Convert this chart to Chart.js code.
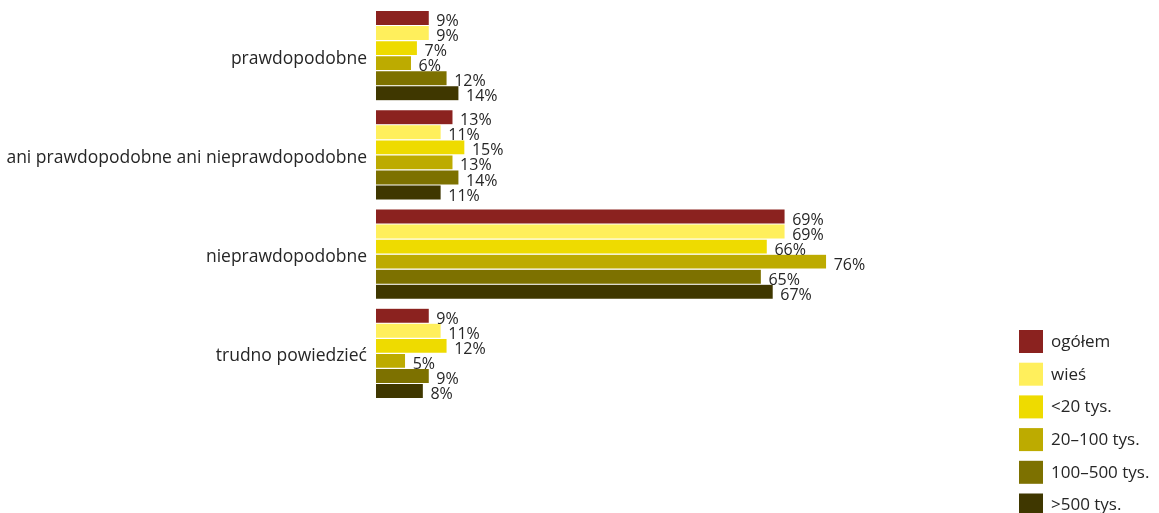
<!DOCTYPE html>
<html>
<head>
<meta charset="utf-8">
<script src="https://cdn.jsdelivr.net/npm/chart.js@4/dist/chart.umd.min.js"></script>
<style>
html,body{margin:0;padding:0;background:#fff;}
#wrap{position:relative;width:1159px;height:513px;}
</style>
</head>
<body>
<div id="wrap"><canvas id="c" width="1159" height="513"></canvas></div>
<script>
const categories = ["prawdopodobne", "ani prawdopodobne ani nieprawdopodobne", "nieprawdopodobne", "trudno powiedzieć"];
const seriesNames = ["ogółem", "wieś", "<20 tys.", "20–100 tys.", "100–500 tys.", ">500 tys."];
const seriesColors = ["#8B221F", "#FFEF5C", "#EEDB00", "#BDAB00", "#7D7100", "#3F3700"];
const ogolem = [9, 13, 69, 9];
const wies = [9, 11, 69, 11];
const do20 = [7, 15, 66, 12];
const od20do100 = [6, 13, 76, 5];
const od100do500 = [12, 14, 65, 9];
const pow500 = [14, 11, 67, 8];
const seriesValues = [ogolem, wies, do20, od20do100, od100do500, pow500];

const FONT = "'Open Sans', 'DejaVu Sans', sans-serif";
const TEXT = "#262626";

const valueLabels = {
  id: 'valueLabels',
  afterDatasetsDraw(chart) {
    const ctx = chart.ctx;
    ctx.save();
    ctx.font = "16px " + FONT;
    ctx.fillStyle = TEXT;
    ctx.textAlign = 'left';
    ctx.textBaseline = 'middle';
    chart.data.datasets.forEach((ds, i) => {
      const meta = chart.getDatasetMeta(i);
      meta.data.forEach((bar, j) => {
        ctx.fillText(ds.data[j] + '%', bar.x + 7, bar.y + 3.5);
      });
    });
    ctx.restore();
  }
};

const customLegend = {
  id: 'customLegend',
  afterDraw(chart) {
    const ctx = chart.ctx;
    ctx.save();
    ctx.font = "17px " + FONT;
    ctx.textAlign = 'left';
    ctx.textBaseline = 'middle';
    chart.data.datasets.forEach((ds, i) => {
      const y = 330 + i * 32.7;
      ctx.fillStyle = ds.backgroundColor;
      ctx.fillRect(1019, y, 24, 23);
      ctx.fillStyle = TEXT;
      ctx.fillText(ds.label, 1051, y + 12);
    });
    ctx.restore();
  }
};

new Chart(document.getElementById('c'), {
  type: 'bar',
  data: {
    labels: categories,
    datasets: seriesNames.map((name, i) => ({
      label: name,
      data: seriesValues[i],
      backgroundColor: seriesColors[i],
      borderColor: 'rgba(255,255,255,0.15)',
      borderWidth: 0.6,
      categoryPercentage: 0.91,
      barPercentage: 1.0
    }))
  },
  options: {
    indexAxis: 'y',
    responsive: false,
    animation: false,
    layout: { padding: { top: 6, bottom: 110, right: 190, left: 0 } },
    plugins: {
      legend: { display: false },
      tooltip: { enabled: false }
    },
    scales: {
      x: {
        display: false,
        min: 0,
        max: 100
      },
      y: {
        grid: { display: false, drawTicks: false },
        border: { display: false },
        ticks: {
          color: TEXT,
          font: { family: FONT, size: 17.5 },
          padding: 9,
          labelOffset: 3
        },
        afterFit(scale) {
          scale.width = 376;
          scale.paddingTop = 0;
          scale.paddingBottom = 0;
        }
      }
    }
  },
  plugins: [valueLabels, customLegend]
});
</script>
</body>
</html>
